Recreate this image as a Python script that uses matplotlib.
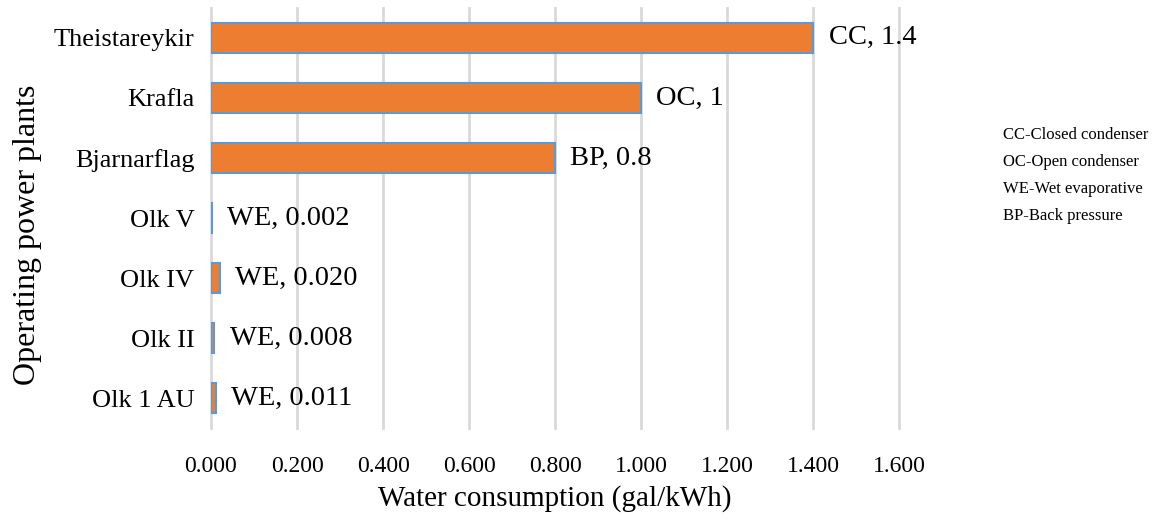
import matplotlib
matplotlib.use("Agg")
import matplotlib.pyplot as plt

plt.rcParams['font.family'] = ['Liberation Serif', 'DejaVu Serif']

# water use per operating plant, bottom to top
plants = ['Olk 1 AU', 'Olk II', 'Olk IV', 'Olk V', 'Bjarnarflag', 'Krafla', 'Theistareykir']
consumption = [0.011, 0.008, 0.020, 0.002, 0.8, 1.0, 1.4]
cooling = ['WE', 'WE', 'WE', 'WE', 'BP', 'OC', 'CC']
value_text = ['0.011', '0.008', '0.020', '0.002', '0.8', '1', '1.4']
xticks = [0.0, 0.2, 0.4, 0.6, 0.8, 1.0, 1.2, 1.4, 1.6]
key_lines = ['CC-Closed condenser', 'OC-Open condenser', 'WE-Wet evaporative', 'BP-Back pressure']

fig = plt.figure(figsize=(11.53, 5.21), dpi=100)
ax = fig.add_axes([0.183, 0.178, 0.597, 0.807])

ax.barh(plants, consumption, height=0.5, color='#ED7D31', edgecolor='#5B9BD5', linewidth=1.5, zorder=3)

for i, v in enumerate(consumption):
    ax.annotate(f'{cooling[i]}, {value_text[i]}', (v, i), xytext=(11, 0), textcoords='offset points',
                va='center', ha='left', fontsize=20.5)

ax.set_xlim(0, 1.6)
ax.set_ylim(-0.5, 6.5)
ax.set_xticks(xticks)
ax.set_xticklabels([f'{t:.3f}' for t in xticks], fontsize=17)
ax.tick_params(axis='y', labelsize=19, length=0, pad=12)
ax.tick_params(axis='x', length=0, pad=20)
ax.grid(axis='x', color='#D9D9D9', linewidth=2, zorder=0)
for gl in ax.get_xgridlines():
    gl.set_clip_on(False)
for s in ax.spines.values():
    s.set_visible(False)

ax.set_xlabel('Water consumption (gal/kWh)', fontsize=21, labelpad=6)
ax.set_ylabel('Operating power plants', fontsize=23)
ax.yaxis.set_label_coords(-0.246, 0.46)

for k, line in enumerate(key_lines):
    fig.text(0.870, 1 - (135 + 27 * k) / 521, line, fontsize=12, va='center', ha='left')

fig.savefig('out.png', dpi=100)
